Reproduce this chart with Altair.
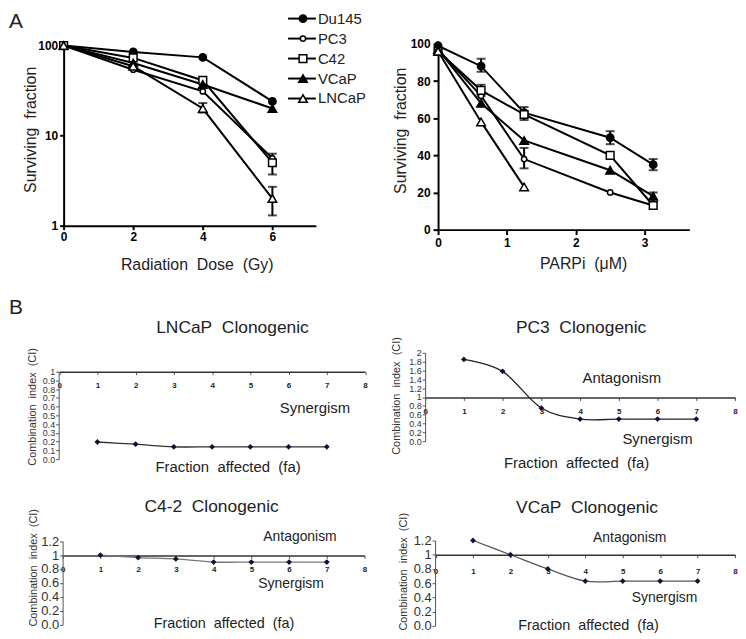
import altair as alt
import pandas as pd

FONT = "Liberation Sans"
NB = "\u00a0"

# ---------------- data ----------------
series = ["Du145", "PC3", "C42", "VCaP", "LNCaP"]
marker_shapes = ["circle", "circle", "square", "triangle-up", "triangle-up"]
marker_fills = ["black", "white", "white", "black", "white"]
marker_sizes = [55, 28, 60, 75, 75]

# Panel A left: radiation dose (Gy) vs surviving fraction (log)
dose = [0, 2, 4, 6]
rad_du145 = [100, 85, 74, 24]
rad_pc3 = [100, 54, 31, 5.6]
rad_c42 = [100, 73, 41, 5.0]
rad_vcap = [100, 64, 37, 20]
rad_lncap = [100, 59, 20, 2.0]
rad_err_series = ["C42", "LNCaP", "LNCaP"]
rad_err_x = [6, 4, 6]
rad_err_lo = [3.7, 18, 1.3]
rad_err_hi = [6.3, 23, 2.7]

# Panel A right: PARPi (uM) vs surviving fraction
parp = [0, 0.625, 1.25, 2.5, 3.125]
parp_du145 = [99, 88, 63, 49.5, 35]
parp_pc3 = [97, 72, 38, 20, 13]
parp_c42 = [96, 75, 62, 40, 13]
parp_vcap = [97, 68, 48, 32, 18]
parp_lncap = [96, 58, 23]
parp_err_series = ["Du145", "Du145", "Du145", "C42", "C42", "PC3", "VCaP"]
parp_err_x = [0.625, 2.5, 3.125, 0.625, 1.25, 1.25, 3.125]
parp_err_lo = [85, 46, 32, 72, 59, 33, 15]
parp_err_hi = [92, 53, 38, 78, 66, 44, 20]

# Panel B: combination index vs fraction affected
fa = [1, 2, 3, 4, 5, 6, 7]
ci_lncap = [0.195, 0.17, 0.14, 0.14, 0.14, 0.14, 0.14]
ci_pc3 = [1.85, 1.58, 0.75, 0.50, 0.50, 0.50, 0.50]
ci_c42 = [1.0, 0.965, 0.945, 0.90, 0.90, 0.90, 0.90]
ci_vcap = [1.2, 1.0, 0.80, 0.63, 0.63, 0.63, 0.63]
fa_ticks = [0, 1, 2, 3, 4, 5, 6, 7, 8]
ci_ticks_lncap = [0, 0.1, 0.2, 0.3, 0.4, 0.5, 0.6, 0.7, 0.8, 0.9, 1]
ci_ticks_pc3 = [0, 0.2, 0.4, 0.6, 0.8, 1, 1.2, 1.4, 1.6, 1.8, 2]
ci_ticks_12 = [0, 0.2, 0.4, 0.6, 0.8, 1, 1.2]


# ---------------- helpers ----------------
def long_df(xs, lists):
    rows = []
    for s, vals in zip(series, lists):
        for x, v in zip(xs, vals):
            rows.append({"series": s, "x": x, "v": v})
    return pd.DataFrame(rows)


def err_df(ss, xs, lo, hi):
    return pd.DataFrame({"series": ss, "x": xs, "lo": lo, "hi": hi})


def top_axis(**kw):
    base = dict(labelFont=FONT, labelFontSize=12, labelFontWeight="bold", labelColor="black",
                domainColor="black", domainWidth=2, tickColor="black", tickWidth=2, tickSize=4,
                grid=False, labelFlush=False, labelOverlap=False,
                titleFont=FONT, titleFontSize=16, titleFontWeight="normal", titleColor="#222",
                titleAlign="center", titleBaseline="middle")
    base.update(kw)
    return alt.Axis(**base)


shape_enc = alt.Shape("series:N", scale=alt.Scale(domain=series, range=marker_shapes), legend=None)
fill_enc = alt.Fill("series:N", scale=alt.Scale(domain=series, range=marker_fills), legend=None)
size_enc = alt.Size("series:N", scale=alt.Scale(type="ordinal", domain=series, range=marker_sizes), legend=None)


def note(text, x, y, size, align="center", color="#222", weight="normal"):
    return alt.Chart(pd.DataFrame({"t": [text]})).mark_text(
        align=align, baseline="middle", font=FONT, fontSize=size, color=color, fontWeight=weight
    ).encode(x=alt.value(x), y=alt.value(y), text="t:N")


def survival_layers(df, errs, xenc, yenc):
    lines = alt.Chart(df).mark_line(color="black", strokeWidth=2).encode(
        x=xenc("x:Q"), y=yenc("v:Q"), detail="series:N")
    rules = alt.Chart(errs).mark_rule(color="black", strokeWidth=2).encode(
        x=xenc("x:Q"), y=yenc("lo:Q"), y2="hi:Q")
    caps = alt.Chart(errs).transform_fold(["lo", "hi"], as_=["k", "cv"]).mark_tick(
        orient="horizontal", color="black", thickness=2, size=9).encode(
        x=xenc("x:Q"), y=yenc("cv:Q"))
    pts = alt.Chart(df).mark_point(filled=True, stroke="black", strokeWidth=1.5, opacity=1).encode(
        x=xenc("x:Q"), y=yenc("v:Q"), shape=shape_enc, fill=fill_enc, size=size_enc)
    return [lines, rules, caps, pts]


# ---------------- Panel A left ----------------
def x_rad(f):
    return alt.X(f, scale=alt.Scale(domain=[0, 7.25], range=[5, 259], nice=False, zero=False),
                 axis=top_axis(values=dose, format="d", offset=-4, labelPadding=2,
                               title=f"Radiation{NB} Dose{NB} (Gy)", titleX=139, titleY=39, titleAngle=0))


def y_rad(f):
    return alt.Y(f, scale=alt.Scale(type="log", domain=[1, 100], range=[183, 1.7], nice=False),
                 axis=top_axis(values=[1, 10, 100], format="d", offset=-5, labelPadding=2,
                               title=f"Surviving{NB} fraction", titleX=-33, titleY=86, titleAngle=-90))


df_rad = long_df(dose, [rad_du145, rad_pc3, rad_c42, rad_vcap, rad_lncap])
errs_rad = err_df(rad_err_series, rad_err_x, rad_err_lo, rad_err_hi)
data_left = alt.layer(*survival_layers(df_rad, errs_rad, x_rad, y_rad))

df_leg = pd.DataFrame({"series": series})
leg_y = alt.Y("series:N", sort=series,
              scale=alt.Scale(type="point", domain=series, range=[-25.5, 55], padding=0), axis=None)
leg_rule = alt.Chart(df_leg).mark_rule(color="black", strokeWidth=2).encode(
    x=alt.value(231), x2=alt.value(259), y=leg_y)
leg_pts = alt.Chart(df_leg).mark_point(filled=True, stroke="black", strokeWidth=1.5, opacity=1).encode(
    x=alt.value(246), y=leg_y, shape=shape_enc, fill=fill_enc, size=size_enc)
leg_txt = alt.Chart(df_leg).mark_text(align="left", baseline="middle", font=FONT, fontSize=15,
                                      color="#222").encode(x=alt.value(261), y=leg_y, text="series:N")
anchor = alt.Chart(pd.DataFrame({"a": [0]})).mark_rule(color="white", strokeWidth=1).encode(
    x=alt.value(-50), x2=alt.value(-50), y=alt.value(-33), y2=alt.value(-32))
label_a = note("A", -50, -22.5, 21, align="left")
legend_layer = alt.layer(anchor, leg_rule, leg_pts, leg_txt, label_a)

top_left = alt.layer(data_left, legend_layer).resolve_scale(y="independent").properties(width=309, height=187)


# ---------------- Panel A right ----------------
def x_parp(f):
    return alt.X(f, scale=alt.Scale(domain=[0, 3.65], range=[13, 266], nice=False, zero=False),
                 axis=top_axis(values=[0, 1, 2, 3], format="d", offset=0, labelPadding=3, tickSize=5,
                               title=f"PARPi{NB}  (\u03bcM)", titleX=159, titleY=34, titleAngle=0))


def y_parp(f):
    return alt.Y(f, scale=alt.Scale(domain=[0, 100], range=[187, 0], nice=False),
                 axis=top_axis(values=[0, 20, 40, 60, 80, 100], format="d", offset=-13, labelPadding=3,
                               tickSize=5, title=f"Surviving{NB} fraction", titleX=-38, titleY=87,
                               titleAngle=-90))


df_parp = long_df(parp, [parp_du145, parp_pc3, parp_c42, parp_vcap, parp_lncap])
errs_parp = err_df(parp_err_series, parp_err_x, parp_err_lo, parp_err_hi)
top_right = alt.layer(*survival_layers(df_parp, errs_parp, x_parp, y_parp)).properties(width=312, height=187)


# ---------------- Panel B ----------------
def ci_panel(vals, ydom, yticks, xrange, yrange, xoff, yoff, lab_size, ytitle_xy, xtitle_xy,
             notes, w, h, line_color, xtitle_size=15, xlab_pad=7):
    df = pd.DataFrame({"fa": fa, "ci": vals})
    x = alt.X("fa:Q", scale=alt.Scale(domain=[0, 8], range=xrange, nice=False, zero=False),
              axis=alt.Axis(values=fa_ticks, format="d", offset=xoff, labelFont=FONT, labelFontSize=8,
                            labelFontWeight="bold", labelColor="#222", tickSize=3, tickColor="#555",
                            domainColor="#333", domainWidth=1.5, labelPadding=xlab_pad, labelFlush=False,
                            labelOverlap=False, grid=False,
                            title=f"Fraction{NB}  affected{NB}  (fa)", titleFont=FONT,
                            titleFontSize=xtitle_size, titleFontWeight="normal", titleColor="#222",
                            titleX=xtitle_xy[0], titleY=xtitle_xy[1], titleAngle=0,
                            titleAlign="center", titleBaseline="middle"))
    y = alt.Y("ci:Q", scale=alt.Scale(domain=ydom, range=yrange, nice=False, zero=False),
              axis=alt.Axis(values=yticks, labelExpr="datum.value == 0 ? '0.0' : format(datum.value, '~g')",
                            offset=yoff, labelFont=FONT, labelFontSize=lab_size, labelColor="#333",
                            tickSize=3, tickColor="#555", domainColor="#555", domainWidth=1,
                            labelPadding=1, labelOverlap=False, grid=False,
                            title=f"Combination{NB}  index{NB}  (CI)", titleFont=FONT, titleFontSize=11,
                            titleFontWeight="normal", titleColor="#333",
                            titleX=ytitle_xy[0], titleY=ytitle_xy[1], titleAngle=-90,
                            titleAlign="center", titleBaseline="middle"))
    line = alt.Chart(df).mark_line(color=line_color, strokeWidth=1.3, interpolate="cardinal").encode(x=x, y=y)
    pts = alt.Chart(df).mark_point(filled=True, shape="diamond", color="#121238", size=34,
                                   opacity=1).encode(x=x, y=y)
    layers = [line, pts] + [note(*n) for n in notes]
    return alt.layer(*layers).properties(width=w, height=h)


lncap_panel = ci_panel(ci_lncap, [0, 1], ci_ticks_lncap, [0.5, 308.5], [149, 61], -88, 0, 9,
                       (-26, 96), (170, 96),
                       [(f"LNCaP{NB}  Clonogenic", 175, 17, 17.5), ("Synergism", 258, 98, 15),
                        ("B", -50, -3, 21, "left")],
                       309, 149, "#333")
pc3_panel = ci_panel(ci_pc3, [0, 2], ci_ticks_pc3, [0, 312], [131, 42], -62, 0, 9,
                     (-29, 85), (152, 66),
                     [(f"PC3{NB}  Clonogenic", 157, 17, 17.5), ("Antagonism", 198, 67, 15),
                      ("Synergism", 234, 129, 15)],
                     312, 149, "#222")
c42_panel = ci_panel(ci_c42, [0, 1.2], ci_ticks_12, [4, 308], [84.7, 0.7], -71, -4, 13,
                     (-29, 27), (166, 69),
                     [(f"C4-2{NB}  Clonogenic", 154, -34, 17.5), ("Antagonism", 243, -4, 14),
                      ("Synergism", 234, 43.5, 14)],
                     309, 86, "#777", xtitle_size=14.5, xlab_pad=7)
vcap_panel = ci_panel(ci_vcap, [0, 1.2], ci_ticks_12, [10.5, 312], [86, 0], -71.7, -10, 13,
                      (-32, 31), (164, 71),
                      [(f"VCaP{NB}  Clonogenic", 163, -33, 17.5), ("Antagonism", 206, -2, 14),
                       ("Synergism", 241, 58, 14)],
                      312, 86, "#555", xtitle_size=14.5, xlab_pad=10)

chart = alt.concat(
    top_left, top_right, lncap_panel, pc3_panel, c42_panel, vcap_panel,
    columns=2, spacing={"row": 82, "column": 60}, bounds="flush",
).properties(padding=0).configure_view(stroke=None)

chart.save("out.html", embed_options={"renderer": "svg", "actions": False})
